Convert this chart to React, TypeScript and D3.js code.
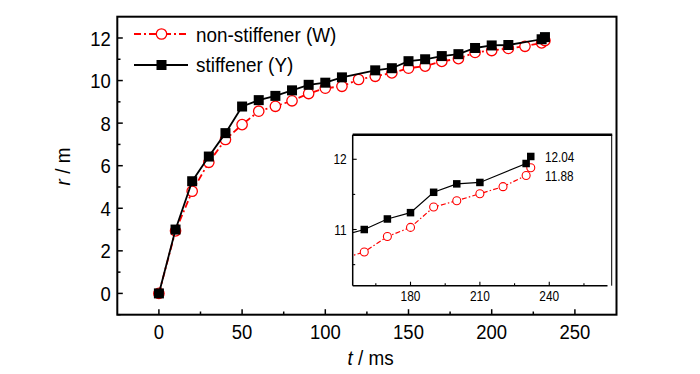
import React from "react";
import * as d3 from "d3";

// ---- data ----
const tRed = [0, 10, 20, 30, 40, 50, 60, 70, 80, 90, 100, 110, 120, 130, 140, 150, 160, 170, 180, 190, 200, 210, 220, 230, 232];
const rRed = [0, 2.94, 4.8, 6.16, 7.23, 7.93, 8.56, 8.79, 9.05, 9.39, 9.64, 9.73, 10.05, 10.2, 10.36, 10.58, 10.68, 10.9, 11.03, 11.32, 11.41, 11.51, 11.61, 11.77, 11.88];
const tBlack = [0, 10, 20, 30, 40, 50, 60, 70, 80, 90, 100, 110, 130, 140, 150, 160, 170, 180, 190, 200, 210, 230, 232];
const rBlack = [0, 3.0, 5.27, 6.43, 7.53, 8.78, 9.08, 9.28, 9.54, 9.8, 9.9, 10.15, 10.48, 10.58, 10.91, 11.0, 11.15, 11.24, 11.53, 11.65, 11.67, 11.94, 12.04];

const seriesNames = ["non-stiffener (W)", "stiffener (Y)"];
const xTicksMain = [0, 50, 100, 150, 200, 250];
const xMinorMain = [25, 75, 125, 175, 225];
const yTicksMain = [0, 2, 4, 6, 8, 10, 12];
const yMinorMain = [-1, 1, 3, 5, 7, 9, 11];
const xTicksInset = [180, 210, 240];
const xMinorInset = [165, 195, 225, 255];
const yTicksInset = [11, 12];
const yMinorInset = [10.5, 11.5];
const endLabels = ["12.04", "11.88"];

const FONT = "'Liberation Sans', Arial, sans-serif";

type P = { t: number; r: number };
const red: P[] = tRed.map((t, i) => ({ t, r: rRed[i] }));
const black: P[] = tBlack.map((t, i) => ({ t, r: rBlack[i] }));

function Txt(props: { x: number; y: number; size: number; sx?: number; anchor?: string; rotate?: number; children: React.ReactNode }) {
  const { x, y, size, sx = 0.88, anchor = "middle", rotate = 0, children } = props;
  return (
    <text
      transform={`translate(${x},${y}) rotate(${rotate}) scale(${sx},1)`}
      fontFamily={FONT}
      fontSize={size}
      textAnchor={anchor}
      fill="#000"
    >
      {children}
    </text>
  );
}

export default function App() {
  // main scales
  const L = 117.3, R = 616.5, Tp = 16.7, B = 314.7;
  const x = d3.scaleLinear().domain([-25, 275]).range([L, R]);
  const y = d3.scaleLinear().domain([-1, 13]).range([B, Tp]);

  // inset scales
  const iL = 352.7, iR = 611.7, iT = 134.7, iB = 285.7;
  const xi = d3.scaleLinear().domain([155, 267]).range([iL, iR]);
  const yi = d3.scaleLinear().domain([10.2, 12.35]).range([iB, iT]);

  const lineMain = d3.line<P>().x((d) => x(d.t)).y((d) => y(d.r));
  const lineInset = d3.line<P>().x((d) => xi(d.t)).y((d) => yi(d.r));

  const redDash = "7,3,2,3";
  const redDashI = "5,2.2,1.5,2.2";

  const sq = 10;
  const sqi = 7.5;

  return (
    <svg width={700} height={374} style={{ position: "absolute", left: 0, top: 0, background: "#fff" }}>
      <defs>
        <clipPath id="insetClip">
          <rect x={iL} y={iT} width={iR - iL} height={iB - iT} />
        </clipPath>
      </defs>
      <rect x={0} y={0} width={700} height={374} fill="#fff" />

      {/* main frame */}
      <rect x={L} y={Tp} width={R - L} height={B - Tp} fill="none" stroke="#000" strokeWidth={2} />

      {/* main x ticks */}
      {xTicksMain.map((v) => (
        <g key={"xt" + v}>
          <line x1={x(v)} x2={x(v)} y1={B} y2={B - 5.5} stroke="#000" strokeWidth={1.5} />
          <Txt x={x(v)} y={338.5} size={21}>{v}</Txt>
        </g>
      ))}
      {xMinorMain.map((v) => (
        <line key={"xm" + v} x1={x(v)} x2={x(v)} y1={B} y2={B - 3.2} stroke="#000" strokeWidth={1.5} />
      ))}
      {/* main y ticks */}
      {yTicksMain.map((v) => (
        <g key={"yt" + v}>
          <line x1={L} x2={L + 5.5} y1={y(v)} y2={y(v)} stroke="#000" strokeWidth={1.5} />
          <Txt x={110.7} y={y(v) + 7.6} size={21} anchor="end">{v}</Txt>
        </g>
      ))}
      {yMinorMain.map((v) => (
        <line key={"ym" + v} x1={L} x2={L + 3.2} y1={y(v)} y2={y(v)} stroke="#000" strokeWidth={1.5} />
      ))}

      {/* axis titles */}
      <text transform={`translate(370.7,365) scale(0.9,1)`} fontFamily={FONT} fontSize={21} textAnchor="middle">
        <tspan fontStyle="italic">t</tspan> / ms
      </text>
      <text transform={`translate(70,166.5) rotate(-90) scale(0.9,1)`} fontFamily={FONT} fontSize={21} textAnchor="middle">
        <tspan fontStyle="italic">r</tspan> / m
      </text>

      {/* main series */}
      <path d={lineMain(red) || ""} fill="none" stroke="#ff0000" strokeWidth={1.8} strokeDasharray={redDash} />
      {red.map((d, i) => (
        <circle key={"rc" + i} cx={x(d.t)} cy={y(d.r)} r={5.2} fill="#fff" stroke="#ff0000" strokeWidth={1.3} />
      ))}
      <path d={lineMain(black) || ""} fill="none" stroke="#000" strokeWidth={1.8} />
      {black.map((d, i) => (
        <rect key={"bs" + i} x={x(d.t) - sq / 2} y={y(d.r) - sq / 2} width={sq} height={sq} fill="#000" />
      ))}

      {/* legend */}
      <line x1={134} x2={188} y1={34} y2={34} stroke="#ff0000" strokeWidth={1.8} strokeDasharray={redDash} />
      <circle cx={161.5} cy={34} r={5.2} fill="#fff" stroke="#ff0000" strokeWidth={1.3} />
      <Txt x={196} y={42} size={21} sx={0.9} anchor="start">{seriesNames[0]}</Txt>
      <line x1={134} x2={188} y1={65} y2={65} stroke="#000" strokeWidth={1.8} />
      <rect x={161.5 - sq / 2} y={65 - sq / 2} width={sq} height={sq} fill="#000" />
      <Txt x={196} y={72} size={21} sx={0.9} anchor="start">{seriesNames[1]}</Txt>

      {/* inset */}
      <rect x={iL} y={iT} width={iR - iL} height={iB - iT} fill="#fff" />
      <g clipPath="url(#insetClip)">
        <path d={lineInset(red) || ""} fill="none" stroke="#ff0000" strokeWidth={1.2} strokeDasharray={redDashI} />
        {red.filter((d) => d.t >= 155).map((d, i) => (
          <circle key={"irc" + i} cx={xi(d.t)} cy={yi(d.r)} r={4} fill="#fff" stroke="#ff0000" strokeWidth={1.1} />
        ))}
        <path d={lineInset(black) || ""} fill="none" stroke="#000" strokeWidth={1.2} />
        {black.filter((d) => d.t >= 155).map((d, i) => (
          <rect key={"ibs" + i} x={xi(d.t) - sqi / 2} y={yi(d.r) - sqi / 2} width={sqi} height={sqi} fill="#000" />
        ))}
      </g>
      <line x1={iL} x2={iR + 0.5} y1={iT} y2={iT} stroke="#000" strokeWidth={2.5} />
      <line x1={iL} x2={iL} y1={iT} y2={iB} stroke="#000" strokeWidth={1.5} />
      <line x1={iL} x2={607.5} y1={iB} y2={iB} stroke="#000" strokeWidth={1.5} />
      <line x1={iR} x2={iR} y1={iT} y2={iB} stroke="#000" strokeWidth={1} />
      {xTicksInset.map((v) => (
        <g key={"ixt" + v}>
          <line x1={xi(v)} x2={xi(v)} y1={iB} y2={iB - 4} stroke="#000" strokeWidth={1.1} />
          <Txt x={xi(v)} y={300.5} size={14} sx={0.85}>{v}</Txt>
        </g>
      ))}
      {xMinorInset.map((v) => (
        <line key={"ixm" + v} x1={xi(v)} x2={xi(v)} y1={iB} y2={iB - 2.5} stroke="#000" strokeWidth={1.1} />
      ))}
      {yTicksInset.map((v) => (
        <g key={"iyt" + v}>
          <line x1={iL} x2={iL + 4} y1={yi(v)} y2={yi(v)} stroke="#000" strokeWidth={1.1} />
          <Txt x={346.7} y={yi(v) + 5} size={14} sx={0.85} anchor="end">{v}</Txt>
        </g>
      ))}
      {yMinorInset.map((v) => (
        <line key={"iym" + v} x1={iL} x2={iL + 2.5} y1={yi(v)} y2={yi(v)} stroke="#000" strokeWidth={1.1} />
      ))}
      <Txt x={545} y={161.7} size={14} sx={0.84} anchor="start">{endLabels[0]}</Txt>
      <Txt x={545} y={180.5} size={14} sx={0.84} anchor="start">{endLabels[1]}</Txt>
    </svg>
  );
}
